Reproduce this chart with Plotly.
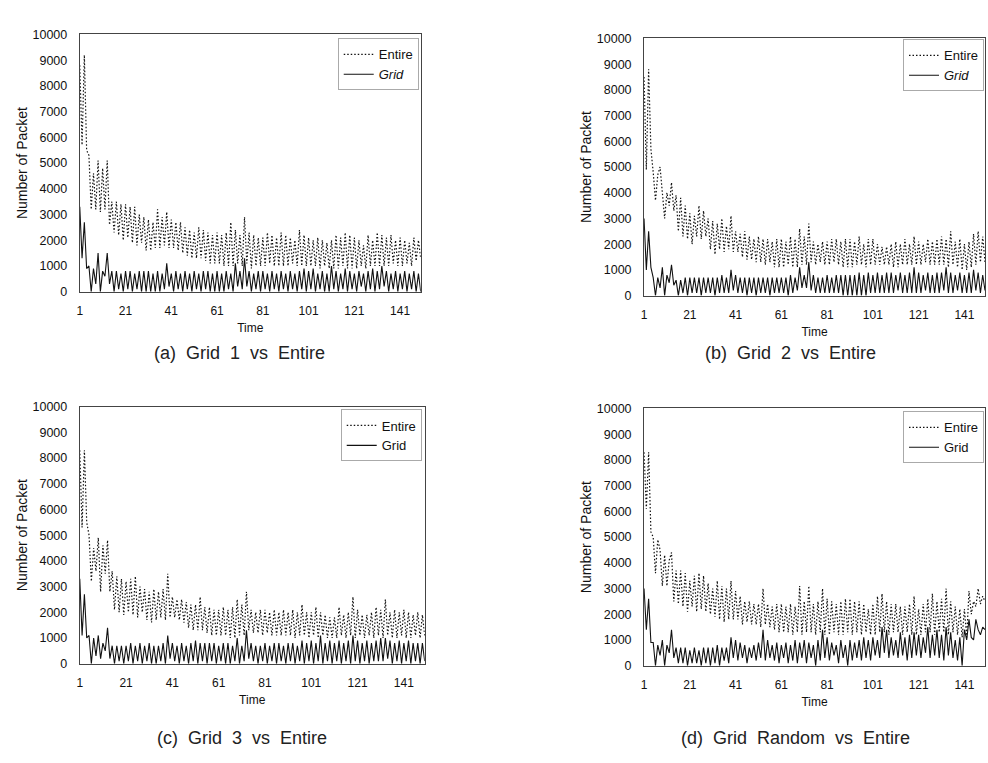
import plotly.graph_objects as go

time = list(range(1, 151))
x_tick_vals = [1, 21, 41, 61, 81, 101, 121, 141]
y_tick_vals = [0, 1000, 2000, 3000, 4000, 5000, 6000, 7000, 8000, 9000, 10000]
y_tick_text = ["0", "1000", "2000", "3000", "4000", "5000", "6000", "7000", "8000", "9000", "10000"]
series_names = ["Entire", "Grid"]
captions = ["(a)  Grid  1  vs  Entire", "(b)  Grid  2  vs  Entire",
            "(c)  Grid  3  vs  Entire", "(d)  Grid  Random  vs  Entire"]

entire_a = [8800, 5700, 9200, 5500, 5300, 3200, 4600, 3200, 5100, 3100, 4800, 3200, 5100, 2600,
            3500, 2300, 3500, 2200, 3400, 2000, 3400, 2100, 3300, 1900, 3300, 1800, 3000, 1900, 2900, 1600,
            2800, 1600, 2700, 1700, 3200, 1700, 2900, 1800, 3100, 1700,
            2800, 1700, 2700, 1600, 2700, 1500, 2500, 1400, 2400, 1300,
            2300, 1300, 2500, 1300, 2400, 1200, 2300, 1100, 2200, 1100,
            2300, 1100, 2200, 1000, 2300, 1000, 2700, 1000, 2400, 1100,
            2200, 1000, 2900, 1100, 2300, 900, 2200, 1000, 2100, 1000,
            2100, 1000, 2300, 1100, 2200, 1000, 2100, 1000, 2300, 1000,
            2200, 1000, 2100, 1100, 2000, 1000, 2400, 1000, 2200, 1000,
            2100, 1000, 2000, 1000, 2100, 900, 2000, 1000, 1900, 900,
            2000, 900, 2200, 900, 2100, 1000, 2300, 900, 2200, 900,
            2100, 900, 2000, 1000, 1800, 900, 2200, 1000, 2000, 1000,
            2300, 1000, 2200, 1000, 2100, 1000, 2200, 1100, 2000, 1000,
            2100, 1000, 2000, 1100, 1900, 1000, 2100, 1200, 2000, 1300]
grid_a = [3300, 1300, 2700, 900, 1000, 0, 900, 300, 1500, 0, 800, 600, 1500, 300, 800,
          0, 800, 100, 700, 0, 800, 100, 800, 0, 700, 100, 800, 0, 800, 0,
          800, 0, 700, 0, 800, 0, 700, 100, 1100, 200,
          700, 0, 800, 100, 700, 0, 800, 100, 700, 0,
          800, 100, 700, 0, 800, 100, 800, 0, 700, 0,
          800, 0, 700, 0, 800, 100, 700, 0, 1100, 200,
          800, 100, 1300, 200, 800, 0, 700, 100, 800, 0,
          800, 100, 700, 0, 800, 100, 700, 0, 800, 100,
          700, 0, 800, 100, 700, 0, 800, 100, 900, 0,
          800, 100, 900, 0, 700, 100, 800, 0, 700, 0,
          1000, 100, 800, 0, 700, 100, 900, 0, 800, 100,
          700, 0, 800, 200, 700, 0, 800, 100, 900, 0,
          800, 100, 1000, 200, 800, 0, 700, 100, 800, 0,
          700, 100, 800, 0, 700, 100, 800, 0, 700, 0]

entire_b = [8500, 4900, 8800, 5700, 4800, 3700, 4700, 5000, 4000, 3000, 4000, 3500, 4400, 3300, 3900, 2500,
            3800, 2300, 3500, 2200, 3200, 2000, 3100, 2300, 3500, 2200, 3300, 2300, 3000, 1800,
            2900, 1600, 2800, 1800, 3000, 1700, 2700, 1800, 3100, 1700,
            2500, 1700, 2400, 1500, 2500, 1400, 2300, 1400, 2200, 1300,
            2300, 1300, 2200, 1200, 2200, 1300, 2100, 1100, 2200, 1100,
            2200, 1100, 2100, 1200, 2300, 1100, 2200, 1100, 2600, 1200,
            2300, 1200, 2800, 1300, 2100, 1200, 2000, 1300, 2100, 1200,
            2100, 1200, 2200, 1300, 2200, 1200, 2100, 1100, 2200, 1100,
            2200, 1100, 2100, 1200, 2300, 1200, 2000, 1100, 2200, 1200,
            2200, 1200, 2000, 1200, 1900, 1200, 1900, 1200, 2000, 1100,
            2100, 1100, 2000, 1200, 2200, 1200, 2000, 1200, 2300, 1200,
            2100, 1200, 2000, 1300, 2200, 1200, 2100, 1200, 2200, 1200,
            2300, 1200, 2200, 1100, 2500, 1200, 2100, 1100, 2200, 1000,
            2000, 1000, 2100, 1100, 2400, 1200, 2500, 1300, 2300, 1300]
grid_b = [3000, 1000, 2500, 1100, 700, 0, 700, 300, 1100, 0, 800, 500, 1200, 400, 600, 0,
          600, 100, 700, 0, 700, 100, 700, 100, 700, 0, 700, 100, 700, 100,
          700, 0, 700, 100, 800, 100, 700, 100, 1000, 200,
          800, 100, 700, 100, 700, 0, 700, 100, 700, 0,
          700, 100, 700, 100, 700, 0, 700, 100, 700, 100,
          700, 100, 700, 0, 800, 100, 700, 200, 1100, 300,
          800, 300, 1300, 200, 800, 100, 700, 100, 700, 100,
          800, 100, 700, 100, 800, 100, 800, 0, 800, 0,
          800, 0, 800, 0, 900, 0, 800, 0, 900, 100,
          800, 100, 900, 100, 800, 100, 900, 100, 900, 100,
          800, 200, 900, 100, 800, 100, 900, 100, 1100, 100,
          900, 100, 800, 200, 900, 100, 800, 100, 900, 100,
          900, 200, 1100, 100, 900, 100, 800, 200, 900, 100,
          800, 100, 900, 100, 1000, 200, 900, 100, 800, 200]

entire_c = [8300, 5300, 8300, 5500, 5000, 3200, 4500, 3600, 4900, 2800, 4600, 3500, 4800, 2800, 3600, 2100,
            3400, 2000, 3300, 1900, 3200, 2000, 3300, 1900, 3400, 1800, 3000, 2000, 2900, 1700,
            2800, 1600, 2900, 1700, 2800, 1800, 2900, 1700, 3500, 1800,
            2600, 1800, 2500, 1700, 2500, 1600, 2400, 1400, 2300, 1300,
            2300, 1300, 2600, 1300, 2200, 1200, 2200, 1100, 2100, 1100,
            2100, 1100, 2200, 1100, 2100, 1000, 2200, 1000, 2500, 1100,
            2300, 1100, 2800, 1300, 2100, 1200, 2000, 1200, 2100, 1100,
            2100, 1200, 2000, 1100, 2100, 1100, 2000, 1100, 2100, 1100,
            2000, 1100, 2100, 1000, 2000, 1100, 2300, 1100, 2000, 1000,
            2000, 1100, 2200, 1000, 2000, 1100, 1900, 1000, 1800, 1000,
            1800, 1000, 2200, 1100, 1900, 1000, 2000, 1100, 2600, 1000,
            2100, 1100, 1900, 1000, 1900, 1100, 2000, 1000, 2200, 1100,
            2100, 1000, 2500, 1100, 2000, 1000, 2100, 1000, 2000, 1100,
            2100, 1000, 2000, 1000, 1900, 1100, 2000, 1000, 1900, 1100]
grid_c = [3300, 1100, 2700, 1000, 1100, 0, 1000, 300, 1100, 200, 800, 500, 1400, 200, 700, 0,
          700, 100, 700, 0, 700, 100, 800, 0, 700, 100, 800, 0, 700, 100,
          800, 0, 700, 0, 700, 100, 800, 0, 1100, 200,
          800, 100, 700, 0, 800, 100, 700, 0, 800, 100,
          900, 0, 800, 100, 800, 0, 800, 100, 800, 0,
          700, 100, 800, 0, 800, 0, 700, 100, 1000, 0,
          700, 100, 1300, 200, 800, 100, 700, 0, 700, 100,
          800, 0, 700, 100, 800, 0, 800, 100, 700, 0,
          800, 100, 800, 0, 700, 100, 900, 0, 800, 100,
          900, 0, 800, 100, 1100, 0, 800, 100, 900, 0,
          800, 100, 900, 0, 800, 100, 900, 0, 1100, 100,
          900, 0, 800, 100, 900, 0, 800, 100, 900, 100,
          1000, 100, 1000, 200, 900, 0, 800, 100, 900, 0,
          800, 100, 900, 0, 800, 100, 800, 0, 800, 100]

entire_d = [8300, 6100, 8300, 5200, 5000, 3600, 4900, 4500, 3100, 4300, 3100, 4100, 4400, 2500, 3700, 2400,
            3700, 2300, 3600, 2100, 3300, 2300, 3500, 2100, 3600, 2200, 3500, 2100, 3200, 2000,
            3000, 1900, 3300, 1800, 3100, 1700, 3000, 1800, 3300, 1800,
            2900, 1800, 2700, 1600, 2500, 1700, 2500, 1600, 2400, 1600,
            2400, 1500, 3000, 1600, 2400, 1500, 2300, 1400, 2400, 1300,
            2400, 1300, 2300, 1300, 2400, 1200, 2300, 1300, 3100, 1200,
            2500, 1300, 3100, 1300, 2400, 1200, 2500, 1300, 3000, 1200,
            2600, 1200, 2500, 1300, 2400, 1200, 2500, 1200, 2600, 1300,
            2600, 1200, 2500, 1300, 2500, 1200, 2400, 1300, 2200, 1200,
            2400, 1200, 2700, 1300, 2800, 1300, 2500, 1200, 2400, 1300,
            2400, 1300, 2300, 1200, 2300, 1300, 2400, 1200, 2700, 1200,
            2200, 1200, 2400, 1300, 2600, 1300, 2800, 1200, 2500, 1300,
            2600, 1300, 3000, 1200, 2500, 1300, 2300, 1200, 2200, 1100,
            2200, 1100, 2900, 2000, 2500, 2300, 3000, 2400, 2700, 2500]
grid_d = [3000, 1400, 2600, 900, 900, 0, 800, 400, 1000, 0, 800, 500, 1400, 300, 700, 100,
          700, 100, 700, 0, 600, 100, 700, 100, 600, 0, 700, 100, 700, 0,
          700, 100, 800, 0, 700, 200, 700, 100, 1100, 300,
          1000, 200, 900, 300, 800, 100, 700, 300, 800, 200,
          900, 300, 1400, 200, 1000, 300, 800, 200, 900, 100,
          800, 300, 900, 100, 800, 200, 1000, 100, 900, 300,
          1000, 100, 900, 300, 800, 0, 1000, 200, 1400, 300,
          1100, 200, 900, 400, 800, 100, 1000, 300, 800, 0,
          1000, 200, 900, 300, 1000, 200, 1100, 300, 1000, 200,
          1100, 400, 1000, 300, 1500, 500, 1400, 300, 1100, 400,
          1000, 300, 1300, 400, 1100, 200, 1200, 300, 1300, 400,
          1200, 300, 1100, 500, 1500, 300, 1200, 400, 1400, 300,
          1200, 200, 1500, 400, 1300, 300, 1000, 200, 1100, 0,
          1400, 1000, 1800, 1100, 1000, 1800, 1400, 1200, 1500, 1400]

FONT = "Liberation Sans, Arial, sans-serif"
W, H = 988, 763

def px_x(p):
    return p / W

def px_y(p):
    return 1 - p / H

# layout boxes (pixels): left, right, top, bottom
panels = [
    dict(entire=entire_a, grid=grid_a, italic=True, box=(77, 419, 28, 290), cap=(237, 352), leg=(417, 32)),
    dict(entire=entire_b, grid=grid_b, italic=True, box=(643, 985, 32, 294), cap=(790, 352), leg=(984, 33)),
    dict(entire=entire_c, grid=grid_c, italic=False, box=(77, 423, 407, 669), cap=(240, 745), leg=(420, 410)),
    dict(entire=entire_d, grid=grid_d, italic=False, box=(643, 985, 409, 671), cap=(795, 745), leg=(984, 412)),
]

fig = go.Figure()
layout = dict(
    width=W, height=H, margin=dict(l=0, r=0, t=0, b=0),
    paper_bgcolor="white", plot_bgcolor="white",
    font=dict(family=FONT, color="#111"),
    showlegend=True,
)
annotations = []

for i, p in enumerate(panels):
    n = "" if i == 0 else str(i + 1)
    xa, ya = "x" + n, "y" + n
    leg = "legend" + n
    assert len(p["entire"]) == len(time) and len(p["grid"]) == len(time)
    fig.add_trace(go.Scatter(x=time, y=p["entire"], mode="lines", name=series_names[0],
                             line=dict(color="#111", width=1.2, dash="1.5px,2px"),
                             xaxis=xa, yaxis=ya, legend=leg))
    gname = "<i>" + series_names[1] + "</i>" if p["italic"] else series_names[1]
    fig.add_trace(go.Scatter(x=time, y=p["grid"], mode="lines", name=gname,
                             line=dict(color="#111", width=1.1),
                             xaxis=xa, yaxis=ya, legend=leg))
    l, r, t, b = p["box"]
    layout["xaxis" + n] = dict(
        domain=[px_x(l), px_x(r)], anchor=ya, range=[1, 150],
        tickmode="array", tickvals=x_tick_vals, ticks="", showgrid=False, zeroline=False,
        showline=True, linecolor="#444", linewidth=1, mirror=True,
        tickfont=dict(size=12, family=FONT, color="#111"), ticklabelstandoff=8,
        title=dict(text="Time", font=dict(size=12, family=FONT, color="#111"), standoff=6),
    )
    layout["yaxis" + n] = dict(
        domain=[px_y(b), px_y(t)], anchor=xa, range=[0, 10000],
        tickmode="array", tickvals=y_tick_vals, ticktext=y_tick_text, ticks="",
        showgrid=False, zeroline=False,
        showline=True, linecolor="#444", linewidth=1, mirror=True,
        tickfont=dict(size=12.5, family=FONT, color="#111"), ticklabelstandoff=9,
        title=dict(text="Number of Packet", font=dict(size=14, family=FONT, color="#111"), standoff=1),
    )
    lx, ly = p["leg"]
    layout[leg] = dict(
        x=px_x(lx), y=px_y(ly), xanchor="right", yanchor="top", xref="paper", yref="paper",
        bgcolor="rgba(255,255,255,0.9)", bordercolor="#aaa", borderwidth=1,
        font=dict(size=13, family=FONT, color="#111"), tracegroupgap=0, itemwidth=30,
    )
    cx, cy = p["cap"]
    annotations.append(dict(
        text=captions[i].replace(" ", "\u00a0"), x=px_x(cx), y=px_y(cy), xref="paper", yref="paper",
        showarrow=False, xanchor="center", yanchor="middle",
        font=dict(size=18, family=FONT, color="#222"),
    ))

layout["annotations"] = annotations
fig.update_layout(**layout)
fig.write_html("out.html", config={"displayModeBar": False},
               post_script="document.body.style.margin='0';document.body.style.padding='0';")
